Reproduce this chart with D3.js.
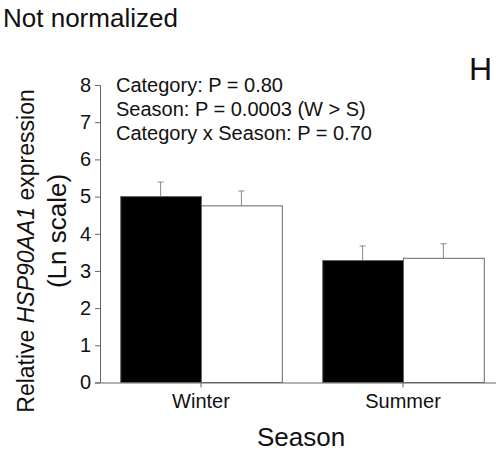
<!DOCTYPE html>
<html>
<head>
<meta charset="utf-8">
<script src="https://cdn.jsdelivr.net/npm/d3@7"></script>
<style>
  body { margin: 0; background: #fff; }
  text { font-family: "Liberation Sans", Arial, sans-serif; fill: #111; }
</style>
</head>
<body>
<script>
// chart data
var seasons = ["Winter", "Summer"];
var groups = ["black", "white"];
var means = [[5.00, 4.75], [3.28, 3.34]];
var errors = [[0.39, 0.40], [0.39, 0.39]];
var yTicks = [0, 1, 2, 3, 4, 5, 6, 7, 8];
var notes = ["Category: P = 0.80", "Season: P = 0.0003 (W > S)", "Category x Season: P = 0.70"];

var width = 496, height = 451;
var svg = d3.select("body").append("svg")
  .attr("width", width)
  .attr("height", height);

var y = d3.scaleLinear().domain([0, 8]).range([382.5, 85]);
var x0 = d3.scaleBand().domain(seasons).range([100, 504])
  .paddingInner(0.2).paddingOuter(0.1);
var x1 = d3.scaleBand().domain(groups).range([0, x0.bandwidth()]);

// bars
var rows = [];
seasons.forEach(function(s, i) {
  groups.forEach(function(g, j) {
    rows.push({season: s, group: g, mean: means[i][j], err: errors[i][j]});
  });
});

var bar = svg.append("g").selectAll("g").data(rows).enter().append("g")
  .attr("transform", function(d) { return "translate(" + (x0(d.season) + x1(d.group)) + ",0)"; });

// error bars behind the bars
bar.append("line")
  .attr("x1", x1.bandwidth() / 2).attr("x2", x1.bandwidth() / 2)
  .attr("y1", function(d) { return y(d.mean); })
  .attr("y2", function(d) { return y(d.mean + d.err); })
  .attr("stroke", "#888").attr("stroke-width", 1);
bar.append("line")
  .attr("x1", x1.bandwidth() / 2 - 3).attr("x2", x1.bandwidth() / 2 + 3)
  .attr("y1", function(d) { return y(d.mean + d.err); })
  .attr("y2", function(d) { return y(d.mean + d.err); })
  .attr("stroke", "#888").attr("stroke-width", 1);

bar.append("rect")
  .attr("x", 0.5)
  .attr("width", x1.bandwidth())
  .attr("y", function(d) { return y(d.mean); })
  .attr("height", function(d) { return y(0) - y(d.mean); })
  .attr("fill", function(d) { return d.group === "black" ? "#000" : "#fff"; })
  .attr("stroke", "#666").attr("stroke-width", 1);

// y axis
var yAxis = svg.append("g").attr("transform", "translate(100,0)")
  .call(d3.axisLeft(y).tickValues(yTicks).tickSize(5).tickPadding(4));
yAxis.select(".domain").attr("stroke", "#666");
yAxis.selectAll(".tick line").attr("stroke", "#666");
yAxis.selectAll("text").style("font-size", "20px").attr("fill", "#111");

// x axis
var xAxis = svg.append("g").attr("transform", "translate(0," + y(0) + ")")
  .call(d3.axisBottom(x0).tickSize(5).tickPadding(6).tickSizeOuter(0));
xAxis.select(".domain").attr("stroke", "#666");
xAxis.selectAll(".tick line").attr("stroke", "#666");
xAxis.selectAll("text").style("font-size", "20px").attr("fill", "#111");

// annotations
svg.append("g").selectAll("text").data(notes).enter().append("text")
  .attr("x", 116)
  .attr("y", function(d, i) { return 92 + i * 24; })
  .style("font-size", "20px")
  .text(function(d) { return d; });

svg.append("text").attr("x", 3).attr("y", 27)
  .style("font-size", "26px").text("Not normalized");

svg.append("text").attr("x", 469).attr("y", 80)
  .style("font-size", "32px").text("H");

// axis titles
svg.append("text").attr("x", 301).attr("y", 446)
  .attr("text-anchor", "middle").style("font-size", "26px").text("Season");

var yl = svg.append("text")
  .attr("transform", "translate(34,251) rotate(-90)")
  .attr("text-anchor", "middle").style("font-size", "23px");
yl.append("tspan").text("Relative ");
yl.append("tspan").style("font-style", "italic").text("HSP90AA1");
yl.append("tspan").text(" expression");

svg.append("text")
  .attr("transform", "translate(66,231) rotate(-90)")
  .attr("text-anchor", "middle").style("font-size", "26px").text("(Ln scale)");
</script>
</body>
</html>
